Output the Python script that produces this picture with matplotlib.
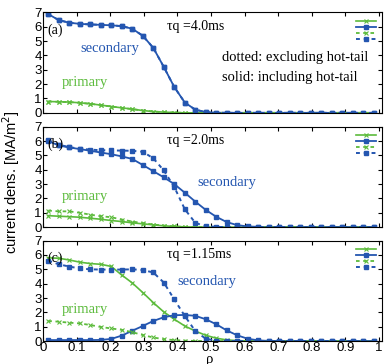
#!/usr/bin/python3

import numpy as np
import matplotlib.pyplot as plt

# radial grid (rho)
rho = [0.0156, 0.0469, 0.0781, 0.1094, 0.1406, 0.1719, 0.2031, 0.2344,
       0.2656, 0.2969, 0.3281, 0.3594, 0.3906, 0.4219, 0.4531, 0.4844,
       0.5156, 0.5469, 0.5781, 0.6094, 0.6406, 0.6719, 0.7031, 0.7344,
       0.7656, 0.7969, 0.8281, 0.8594, 0.8906, 0.9219, 0.9531, 0.9844]

# (a) tau_q = 4.0 ms
a_prim = [0.79, 0.77, 0.75, 0.70, 0.63, 0.54, 0.44, 0.35, 0.26, 0.16, 0.09, 0.05, 0.02]
a_sec = [6.88, 6.46, 6.28, 6.20, 6.16, 6.13, 6.10, 6.04, 5.86, 5.37, 4.53, 3.20,
         1.80, 0.72, 0.22, 0.05, 0.01]
a_prim_dot = a_prim
a_sec_dot = a_sec

# (b) tau_q = 2.0 ms
b_prim = [0.80, 0.76, 0.73, 0.69, 0.62, 0.55, 0.46, 0.39, 0.30, 0.23, 0.16, 0.09, 0.05, 0.02]
b_sec = [6.00, 5.69, 5.55, 5.44, 5.32, 5.20, 5.08, 4.93, 4.75, 4.33, 3.90, 3.47,
         3.00, 2.40, 1.78, 1.20, 0.72, 0.35, 0.14, 0.05, 0.02]
b_prim_dot = [1.15, 1.10, 1.10, 1.00, 0.87, 0.76, 0.69, 0.53, 0.39, 0.28, 0.18, 0.11, 0.05, 0.02]
b_sec_dot = [6.05, 5.75, 5.57, 5.47, 5.40, 5.36, 5.35, 5.33, 5.32, 5.25, 4.80, 3.95,
             2.80, 1.25, 0.30, 0.06, 0.02]

# (c) tau_q = 1.15 ms
c_prim = [5.80, 5.77, 5.65, 5.50, 5.40, 5.35, 5.20, 4.60, 4.05, 3.38, 2.68, 2.03,
          1.52, 1.05, 0.70, 0.40, 0.20, 0.08, 0.03, 0.01]
c_sec = [0.07, 0.07, 0.07, 0.07, 0.07, 0.08, 0.15, 0.38, 0.72, 1.05, 1.40, 1.66,
         1.80, 1.82, 1.76, 1.52, 1.17, 0.74, 0.40, 0.16, 0.05, 0.01]
c_prim_dot = [1.40, 1.35, 1.28, 1.23, 1.12, 0.98, 0.88, 0.78, 0.62, 0.42, 0.25, 0.13,
              0.07, 0.03, 0.01]
c_sec_dot = [5.60, 5.35, 5.19, 5.06, 5.00, 4.98, 4.98, 4.98, 5.00, 4.95, 4.78, 4.08,
             2.90, 1.75, 0.70, 0.16, 0.03]

panel_tags = ['(a)', '(b)', '(c)']
tau_labels = ['\u03c4q =4.0ms', '\u03c4q =2.0ms', '\u03c4q =1.15ms']
xticks = [0, 0.1, 0.2, 0.3, 0.4, 0.5, 0.6, 0.7, 0.8, 0.9, 1]
xtick_labels = ['0', '0.1', '0.2', '0.3', '0.4', '0.5', '0.6', '0.7', '0.8', '0.9', '1']

GREEN = '#5cbb3c'
BLUE = '#2456b0'
SERIF = 'Liberation Serif'
SANS = 'Liberation Sans'


def pad(vals):
  return list(vals) + [0.0] * (len(rho) - len(vals))


def draw_panel(ax, prim, sec, prim_dot, sec_dot):
  h1, = ax.plot(rho, pad(prim), '-', color=GREEN, lw=1.2, marker='x', ms=3, mew=0.8)
  h2, = ax.plot(rho, pad(sec), '-', color=BLUE, lw=1.3, marker='s', ms=2.2)
  h3, = ax.plot(rho, pad(prim_dot), color=GREEN, ls=(0, (2, 2)), lw=1.3, marker='x', ms=3, mew=0.8)
  h4, = ax.plot(rho, pad(sec_dot), color=BLUE, ls=(0, (2, 2)), lw=1.4, marker='s', ms=2.2)
  ax.set_xlim(0, 1.009)
  ax.set_ylim(0, 7)
  ax.set_yticks(range(8))
  ax.set_xticks(xticks)
  ax.tick_params(direction='in', top=True, right=True, length=3, labelsize=9.5, pad=1)
  ax.tick_params(axis='x', pad=0.5)
  for lab in ax.get_xticklabels() + ax.get_yticklabels():
    lab.set_family(SANS)
  # legend without labels, as in the original figure
  ax.legend([h1, h2, h3, h4], [''] * 4, loc='upper right', frameon=False,
            handlelength=3.6, handletextpad=0.0, labelspacing=0.0, numpoints=1,
            borderaxespad=0.4, borderpad=0.7, handleheight=1.3, fontsize=4)
  return ax


def main():
  fig = plt.figure(figsize=(3.84, 3.64), dpi=100)
  left, width = 0.112, 0.883
  bottoms = [0.690, 0.376, 0.063]
  height = 0.276
  data = [(a_prim, a_sec, a_prim_dot, a_sec_dot),
          (b_prim, b_sec, b_prim_dot, b_sec_dot),
          (c_prim, c_sec, c_prim_dot, c_sec_dot)]
  axes = []
  for i in range(3):
    ax = fig.add_axes([left, bottoms[i], width, height])
    draw_panel(ax, *data[i])
    ax.text(0.014, 5.75, panel_tags[i], family=SERIF, fontsize=10, va='center')
    ax.text(0.37, 6.05, tau_labels[i], family=SERIF, fontsize=10, va='center')
    if i < 2:
      ax.set_xticklabels([])
    else:
      ax.set_xticklabels(xtick_labels)
      for lab in ax.get_xticklabels():
        lab.set_family(SANS)
    axes.append(ax)

  fs = 10.5
  axes[0].text(0.11, 4.5, 'secondary', color=BLUE, family=SERIF, fontsize=fs, va='center')
  axes[0].text(0.057, 2.1, 'primary', color=GREEN, family=SERIF, fontsize=fs, va='center')
  axes[0].text(0.533, 3.85, 'dotted: excluding hot-tail', family=SERIF, fontsize=fs, va='center')
  axes[0].text(0.533, 2.45, 'solid: including hot-tail', family=SERIF, fontsize=fs, va='center')
  axes[1].text(0.46, 3.1, 'secondary', color=BLUE, family=SERIF, fontsize=fs, va='center')
  axes[1].text(0.057, 2.1, 'primary', color=GREEN, family=SERIF, fontsize=fs, va='center')
  axes[2].text(0.40, 4.16, 'secondary', color=BLUE, family=SERIF, fontsize=fs, va='center')
  axes[2].text(0.057, 2.2, 'primary', color=GREEN, family=SERIF, fontsize=fs, va='center')

  fig.text(0.03, 0.5, r'current dens. [MA/m$^2$]', rotation=90, family=SANS,
           fontsize=10.5, va='center', ha='center')
  fig.text(210 / 384, 1 - 359 / 364, '\u03c1', family=SERIF, fontsize=10.5,
           va='center', ha='center')

  fig.savefig('out.png', dpi=100)


if __name__ == '__main__': main()
